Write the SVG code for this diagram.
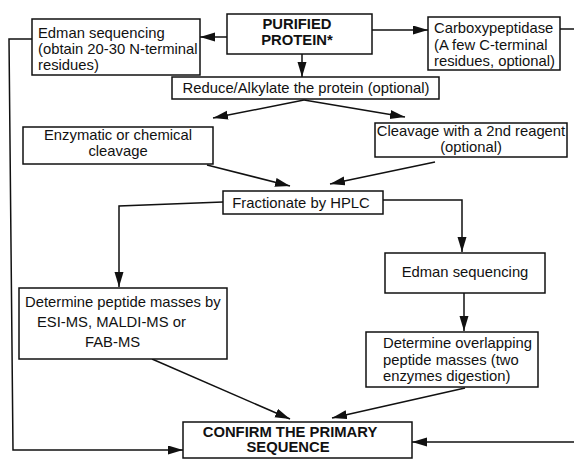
<svg xmlns="http://www.w3.org/2000/svg" width="574" height="460" viewBox="0 0 574 460">
<style>
rect{fill:#fff;stroke:#111;stroke-width:1.5}
text{font-family:"Liberation Sans",Arial,sans-serif;font-size:14.8px;fill:#111}
.b{font-weight:bold}
.m{text-anchor:middle}
.c{fill:none;stroke:#111;stroke-width:1.5}
</style>
<defs>
<marker id="ah" markerUnits="userSpaceOnUse" markerWidth="16" markerHeight="10" refX="15" refY="4.5" orient="auto">
<path d="M0,0 L15,4.5 L0,9 Z" fill="#111"/>
</marker>
</defs>
<rect x="0" y="0" width="574" height="460" style="stroke:none"/>
<g id="connectors">
<line class="c" x1="227" y1="37" x2="200" y2="37" marker-end="url(#ah)"/>
<line class="c" x1="372" y1="30" x2="428" y2="30" marker-end="url(#ah)"/>
<line class="c" x1="560" y1="29" x2="574" y2="29"/>
<line class="c" x1="302" y1="54" x2="302" y2="77" marker-end="url(#ah)"/>
<line class="c" x1="304" y1="100" x2="213" y2="118" marker-end="url(#ah)"/>
<line class="c" x1="304" y1="100" x2="405" y2="117" marker-end="url(#ah)"/>
<line class="c" x1="207" y1="165" x2="290" y2="186" marker-end="url(#ah)"/>
<line class="c" x1="435" y1="162" x2="330" y2="184" marker-end="url(#ah)"/>
<polyline class="c" points="223,202 119,206 119,287" marker-end="url(#ah)"/>
<polyline class="c" points="383,200 462,200 462,252" marker-end="url(#ah)"/>
<line class="c" x1="464" y1="293" x2="464" y2="331" marker-end="url(#ah)"/>
<line class="c" x1="152" y1="359" x2="290" y2="419" marker-end="url(#ah)"/>
<line class="c" x1="465" y1="388" x2="332" y2="418" marker-end="url(#ah)"/>
<polyline class="c" points="32,39 9,39 13,450 183,450" marker-end="url(#ah)"/>
<line class="c" x1="574" y1="442" x2="412" y2="442" marker-end="url(#ah)"/>
</g>
<g id="n_edman1">
<rect x="32" y="19" width="168" height="56"/>
<text x="38" y="38">Edman sequencing</text>
<text x="38" y="54">(obtain 20-30 N-terminal</text>
<text x="38" y="70">residues)</text>
</g>
<g id="n_purified">
<rect x="227" y="14" width="145" height="40"/>
<text class="b m" x="297" y="29">PURIFIED</text>
<text class="b m" x="297" y="45">PROTEIN*</text>
</g>
<g id="n_carboxy">
<rect x="428" y="17" width="132" height="53"/>
<text x="434" y="33">Carboxypeptidase</text>
<text x="434" y="50">(A few C-terminal</text>
<text x="434" y="66">residues, optional)</text>
</g>
<g id="n_reduce">
<rect x="172" y="77" width="267" height="22"/>
<text class="m" x="306" y="93">Reduce/Alkylate the protein (optional)</text>
</g>
<g id="n_enzymatic">
<rect x="23" y="127" width="190" height="37"/>
<text class="m" x="118" y="140">Enzymatic or chemical</text>
<text class="m" x="118" y="156">cleavage</text>
</g>
<g id="n_cleavage">
<rect x="375" y="123" width="192" height="34"/>
<text class="m" x="471" y="136">Cleavage with a 2nd reagent</text>
<text class="m" x="471" y="152">(optional)</text>
</g>
<g id="n_hplc">
<rect x="223" y="191" width="160" height="23"/>
<text class="m" x="301" y="208">Fractionate by HPLC</text>
</g>
<g id="n_mass">
<rect x="19" y="288" width="208" height="71"/>
<text x="25" y="307">Determine peptide masses by</text>
<text x="37" y="327">ESI-MS, MALDI-MS or</text>
<text x="85" y="347">FAB-MS</text>
</g>
<g id="n_edman2">
<rect x="385" y="253" width="160" height="40"/>
<text class="m" x="465" y="277">Edman sequencing</text>
</g>
<g id="n_overlap">
<rect x="366" y="332" width="172" height="55"/>
<text x="383" y="348">Determine overlapping</text>
<text x="383" y="365">peptide masses (two</text>
<text x="383" y="381">enzymes digestion)</text>
</g>
<g id="n_confirm">
<rect x="183" y="422" width="229" height="36"/>
<text class="b m" x="290" y="437">CONFIRM THE PRIMARY</text>
<text class="b m" x="288" y="452">SEQUENCE</text>
</g>
</svg>
